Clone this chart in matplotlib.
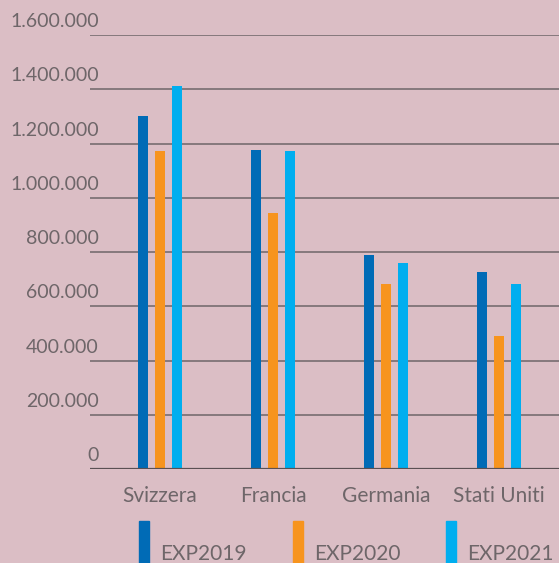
import matplotlib.pyplot as plt
import numpy as np
from matplotlib.patches import Rectangle

paesi = ["Svizzera", "Francia", "Germania", "Stati Uniti"]
serie = ["EXP2019", "EXP2020", "EXP2021"]
exp2019 = [1300000, 1176000, 789000, 726000]
exp2020 = [1172000, 944000, 682000, 490000]
exp2021 = [1412000, 1172000, 759000, 682000]
yticks = [0, 200000, 400000, 600000, 800000, 1000000, 1200000, 1400000, 1600000]
ylabels = ["0", "200.000", "400.000", "600.000", "800.000", "1.000.000",
           "1.200.000", "1.400.000", "1.600.000"]

colori = ["#006bb6", "#f7941e", "#00aeef"]
sfondo = "#dbbec5"
grigio = "#6e6669"

plt.rcParams['font.family'] = ['Lato', 'DejaVu Sans']

fig = plt.figure(figsize=(5.59, 5.63), dpi=100, facecolor=sfondo)
W, H = 559, 563
ax = fig.add_axes([90 / W, 1 - 469 / H, (559 - 90) / W, (469 - 35) / H])
ax.set_facecolor(sfondo)

x = np.arange(len(paesi))
w = 0.088
step = 0.152
for i, vals in enumerate([exp2019, exp2020, exp2021]):
    ax.bar(x + (i - 1) * step, vals, width=w, color=colori[i], zorder=3)

ax.set_xlim(-0.62, 3.53)
ax.set_ylim(0, 1600000)
ax.set_yticks(yticks)
ax.set_yticklabels([])
ax.tick_params(axis='both', length=0)
ax.grid(axis='y', color=grigio, linewidth=1.1, zorder=0)
ax.axhline(0, color="#5a5053", linewidth=1.6, zorder=4)
for s in ax.spines.values():
    s.set_visible(False)

# etichette y sopra le linee
trans = ax.get_yaxis_transform()
for v, lab in zip(yticks, ylabels):
    ax.text(9 / (W - 90), v + 18000, lab, transform=trans, ha='right', va='bottom',
            fontsize=14, color=grigio)

ax.set_xticks(x)
ax.set_xticklabels(paesi, fontsize=15, color=grigio)
ax.tick_params(axis='x', pad=12)

# legenda
leg_x = [139, 293, 446]
for i, nome in enumerate(serie):
    fig.patches.append(Rectangle((leg_x[i] / W, 0), 10 / W, (563 - 521) / H,
                                 transform=fig.transFigure, color=colori[i]))
    fig.text((leg_x[i] + 21) / W, 1 - 554 / H, nome, fontsize=15, color=grigio,
             va='center', ha='left')

fig.savefig("out.png", dpi=100, facecolor=sfondo)
